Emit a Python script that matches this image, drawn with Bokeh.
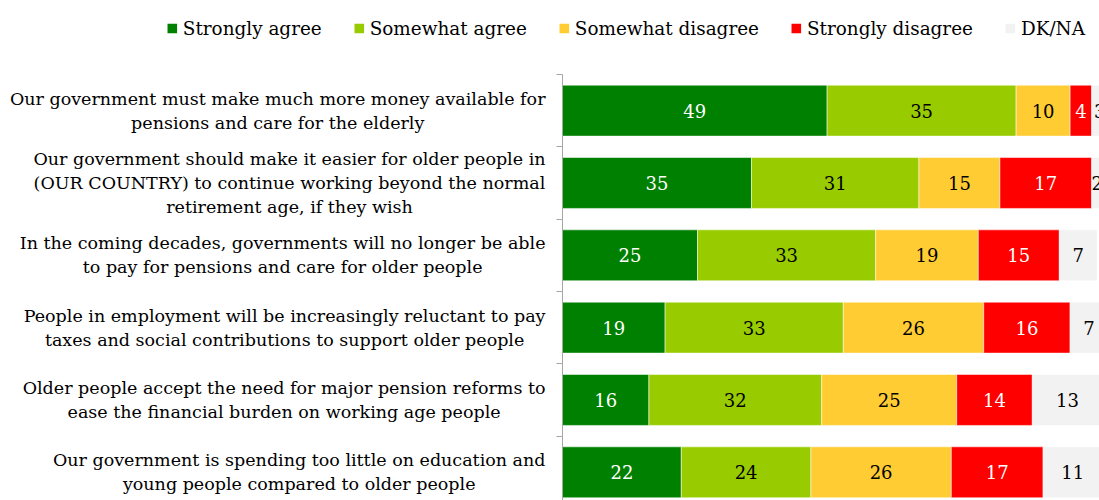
from bokeh.plotting import figure
from bokeh.models import Range1d, LinearAxis, FixedTicker, Legend, LegendItem, ColumnDataSource
from bokeh.layouts import column, row
from bokeh.core.properties import value
from bokeh.embed import file_html
from bokeh.resources import INLINE

statements = [
    "Our government must make much more money available for\npensions and care for the elderly",
    "Our government should make it easier for older people in\n(OUR COUNTRY) to continue working beyond the normal\nretirement age, if they wish",
    "In the coming decades, governments will no longer be able\nto pay for pensions and care for older people",
    "People in employment will be increasingly reluctant to pay\ntaxes and social contributions to support older people",
    "Older people accept the need for major pension reforms to\nease the financial burden on working age people",
    "Our government is spending too little on education and\nyoung people compared to older people",
]
series = ["Strongly agree", "Somewhat agree", "Somewhat disagree", "Strongly disagree", "DK/NA"]
strongly_agree = [49, 35, 25, 19, 16, 22]
somewhat_agree = [35, 31, 33, 33, 32, 24]
somewhat_disagree = [10, 15, 19, 26, 25, 26]
strongly_disagree = [4, 17, 15, 16, 14, 17]
dk_na = [3, 2, 7, 7, 13, 11]
colors = ["#008000", "#99CC00", "#FFCC33", "#FF0000", "#F2F2F2"]
label_colors = ["#FFFFFF", "#000000", "#000000", "#FFFFFF", "#000000"]

FONT = "DejaVu Serif"
rows = list(range(len(statements)))
values = [strongly_agree, somewhat_agree, somewhat_disagree, strongly_disagree, dk_na]
yr = Range1d(5.39, -0.5)


def bare(width, height, x_range, y_range, **kw):
    f = figure(width=width, height=height, x_range=x_range, y_range=y_range,
               x_axis_type=None, y_axis_type=None, toolbar_location=None, output_backend="svg",
               min_border_left=0, min_border_right=0, min_border_bottom=0, min_border_top=0,
               outline_line_color=None, border_fill_color="#FFFFFF", background_fill_color="#FFFFFF",
               **kw)
    f.xgrid.visible = False
    f.ygrid.visible = False
    return f


# ---- legend strip ----
top = bare(1099, 74, Range1d(0, 1), Range1d(0, 1))
items = []
for name, col in zip(series, colors):
    # zero-size swatch renderer: only used to give the legend its colour
    sw = top.hbar(y=[0.5], left=[0.5], right=[0.5], height=0.0, fill_color=col, line_color=None)
    items.append(LegendItem(label=name, renderers=[sw]))
legend = Legend(items=items, orientation="horizontal", location="top_right", nrows=1,
                glyph_width=12, glyph_height=12, label_standoff=5, spacing=31, label_height=28,
                label_text_font=FONT, label_text_font_size="18.4px", label_text_color="#000000",
                border_line_color=None, background_fill_alpha=0, padding=0, margin=14)
top.add_layout(legend, "center")

# ---- category labels ----
lab = bare(556, 426, Range1d(0, 556), yr)
lab.text(x=545, y=rows, text=statements, anchor="center_right", text_align="center",
         text_baseline="middle", text_color="#000000", text_font=value(FONT),
         text_font_size="17.5px", text_line_height=1.2)

# ---- bars ----
p = bare(543, 426, Range1d(0, 99.44), yr)
p.min_border_left = 6

left = [0] * len(rows)
for name, vals, col, lcol in zip(series, values, colors, label_colors):
    right = [l + v for l, v in zip(left, vals)]
    src = ColumnDataSource(dict(y=rows, left=left, right=right, mid=[(l + r) / 2 for l, r in zip(left, right)],
                                txt=[str(v) for v in vals]))
    p.hbar(y="y", left="left", right="right", height=0.704, source=src, fill_color=col,
           line_color="#FFFFFF", line_alpha=0.5, line_width=1)
    p.text(x="mid", y="y", text="txt", source=src, text_align="center", text_baseline="middle",
           text_color=lcol, text_font=value(FONT), text_font_size="18px")
    left = right

yaxis = LinearAxis(ticker=FixedTicker(ticks=rows, minor_ticks=[r - 0.5 for r in rows]),
                   major_label_overrides={r: "" for r in rows},
                   major_tick_out=0, major_tick_in=0, minor_tick_out=6, minor_tick_in=0,
                   axis_line_color="#A6A6A6", minor_tick_line_color="#A6A6A6",
                   major_label_standoff=0, major_label_text_font_size="0px")
p.add_layout(yaxis, "left")

layout = column(top, row(lab, p, spacing=0), spacing=0)
open("out.html", "w").write(file_html(layout, INLINE))
